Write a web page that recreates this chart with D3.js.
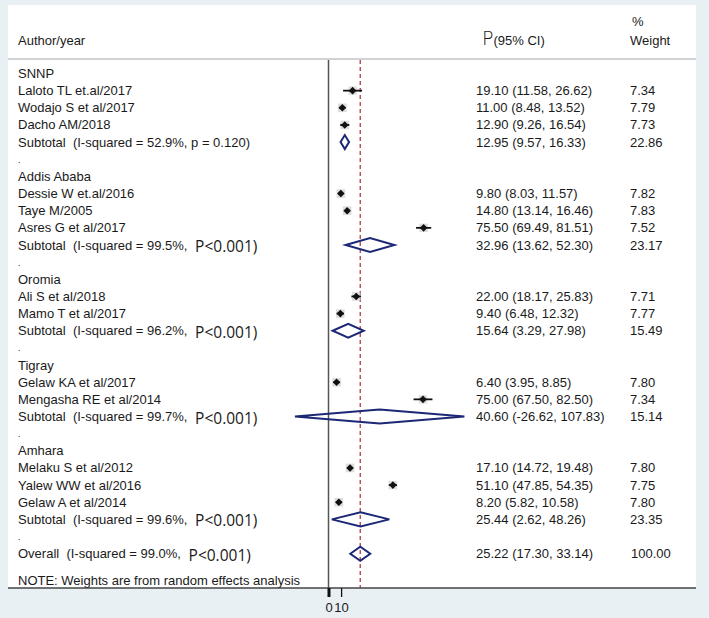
<!DOCTYPE html>
<html>
<head>
<meta charset="utf-8">
<script src="https://cdn.jsdelivr.net/npm/d3@7"></script>
<style>
  html, body { margin: 0; padding: 0; background: #e9f0f4; }
  svg { display: block; }
  text { font-family: "Liberation Sans", Arial, sans-serif; fill: #1a1a1a; }
</style>
</head>
<body>
<svg id="chart" width="709" height="618"></svg>
<script>
// ---------- DATA ----------
const groups = ["SNNP", "Addis Ababa", "Oromia", "Tigray", "Amhara"];

const studyNames = [
  "Laloto TL et.al/2017", "Wodajo S et al/2017", "Dacho AM/2018",
  "Dessie W et.al/2016", "Taye M/2005", "Asres G et al/2017",
  "Ali S et al/2018", "Mamo T et al/2017",
  "Gelaw KA et al/2017", "Mengasha RE et al/2014",
  "Melaku S et al/2012", "Yalew WW et al/2016", "Gelaw A et al/2014"
];
const studyGroup = [0, 0, 0, 1, 1, 1, 2, 2, 3, 3, 4, 4, 4];
const studyEst = [19.10, 11.00, 12.90, 9.80, 14.80, 75.50, 22.00, 9.40, 6.40, 75.00, 17.10, 51.10, 8.20];
const studyLo  = [11.58, 8.48, 9.26, 8.03, 13.14, 69.49, 18.17, 6.48, 3.95, 67.50, 14.72, 47.85, 5.82];
const studyHi  = [26.62, 13.52, 16.54, 11.57, 16.46, 81.51, 25.83, 12.32, 8.85, 82.50, 19.48, 54.35, 10.58];
const studyWeight = [7.34, 7.79, 7.73, 7.82, 7.83, 7.52, 7.71, 7.77, 7.80, 7.34, 7.80, 7.75, 7.80];

const subI2 = ["52.9%", "99.5%", "96.2%", "99.7%", "99.6%"];
const subP = ["p = 0.120", "P<0.001", "P<0.001", "P<0.001", "P<0.001"];
const subEst = [12.95, 32.96, 15.64, 40.60, 25.44];
const subLo  = [9.57, 13.62, 3.29, -26.62, 2.62];
const subHi  = [16.33, 52.30, 27.98, 107.83, 48.26];
const subWeight = [22.86, 23.17, 15.49, 15.14, 23.35];

const overallI2 = "99.0%";
const overallP = "P<0.001";
const overallEst = 25.22, overallLo = 17.30, overallHi = 33.14, overallWeight = 100.00;

const xTicks = [0, 10];
const noteText = "NOTE: Weights are from random effects analysis";

// ---------- BUILD ROWS ----------
const rows = [];
groups.forEach((g, gi) => {
  rows.push({type: "group", label: g});
  studyNames.forEach((n, i) => {
    if (studyGroup[i] === gi) rows.push({type: "study", label: n, est: studyEst[i], lo: studyLo[i], hi: studyHi[i], w: studyWeight[i]});
  });
  rows.push({type: "sub", i2: subI2[gi], p: subP[gi], est: subEst[gi], lo: subLo[gi], hi: subHi[gi], w: subWeight[gi]});
  rows.push({type: "dot"});
});
rows.push({type: "overall", i2: overallI2, p: overallP, est: overallEst, lo: overallLo, hi: overallHi, w: overallWeight});

// ---------- LAYOUT ----------
const svg = d3.select("#chart");
const panel = {x0: 8, x1: 696, y0: 5, y1: 588};
const x = d3.scaleLinear().domain([0, 100]).range([328.5, 454.5]);
const y = d3.scaleLinear().domain([0, 28]).range([73.5, 553.7]);
const fmt = (v) => v.toFixed(2);

svg.append("rect").attr("x", panel.x0).attr("y", panel.y0)
  .attr("width", panel.x1 - panel.x0).attr("height", panel.y1 - panel.y0)
  .attr("fill", "#fff");

// header separator
svg.append("line").attr("x1", panel.x0).attr("x2", panel.x1).attr("y1", 59).attr("y2", 59)
  .attr("stroke", "#cfd3d6").attr("stroke-width", 2);

// headers
const fs = 13;
svg.append("text").attr("x", 18).attr("y", 45).attr("font-size", fs).text("Author/year");
const ph = svg.append("text").attr("x", 482).attr("y", 45).attr("font-size", fs);
ph.append("tspan").attr("font-size", 19).attr("font-family", "DejaVu Sans").attr("font-weight", 300).text("P");
ph.append("tspan").text("(95% CI)");
svg.append("text").attr("x", 632).attr("y", 26).attr("font-size", fs).text("%");
svg.append("text").attr("x", 630).attr("y", 45).attr("font-size", fs).text("Weight");

// vertical null line
svg.append("line").attr("x1", x(0)).attr("x2", x(0)).attr("y1", 60).attr("y2", panel.y1)
  .attr("stroke", "#555").attr("stroke-width", 1.5);
// overall dashed line
svg.append("line").attr("x1", x(overallEst)).attr("x2", x(overallEst)).attr("y1", 60).attr("y2", panel.y1)
  .attr("stroke", "#b5545c").attr("stroke-width", 1.5).attr("stroke-dasharray", "4,3");

// rows
const g = svg.append("g");
rows.forEach((r, i) => {
  const yy = y(i);
  const ty = yy + 4.5;
  if (r.type === "group") {
    g.append("text").attr("x", 18).attr("y", ty).attr("font-size", fs).text(r.label);
  } else if (r.type === "dot") {
    g.append("text").attr("x", 18).attr("y", ty - 1).attr("font-size", 9).text(".");
  } else if (r.type === "study") {
    g.append("text").attr("x", 18).attr("y", ty).attr("font-size", fs).text(r.label);
    const s = Math.sqrt(r.w) * 3.1;
    g.append("rect").attr("x", x(r.est) - s / 2).attr("y", yy - s / 2).attr("width", s).attr("height", s)
      .attr("fill", "#d6d6d6").attr("opacity", 0.8);
    g.append("line").attr("x1", x(r.lo)).attr("x2", x(r.hi)).attr("y1", yy).attr("y2", yy)
      .attr("stroke", "#111").attr("stroke-width", 1.8);
    const d = 3.8;
    g.append("path").attr("d", `M${x(r.est) - d},${yy}L${x(r.est)},${yy - d}L${x(r.est) + d},${yy}L${x(r.est)},${yy + d}Z`)
      .attr("fill", "#111");
    g.append("text").attr("x", 476).attr("y", ty).attr("font-size", fs)
      .text(`${fmt(r.est)} (${fmt(r.lo)}, ${fmt(r.hi)})`);
    g.append("text").attr("x", 630).attr("y", ty).attr("font-size", fs).text(fmt(r.w));
  } else {
    const lead = r.type === "sub" ? "Subtotal" : "Overall";
    const t = g.append("text").attr("x", 18).attr("y", ty).attr("font-size", fs).attr("xml:space", "preserve");
    if (r.p.startsWith("P")) {
      t.append("tspan").text(`${lead}  (I-squared = ${r.i2}, `);
      t.append("tspan").attr("dx", 4).attr("dy", 2.5).attr("font-size", 15.5)
        .attr("font-family", "Open Sans, sans-serif").text(`${r.p})`);
    } else {
      t.text(`${lead}  (I-squared = ${r.i2}, ${r.p})`);
    }
    const h = 7;
    g.append("path").attr("d", `M${x(r.lo)},${yy}L${x(r.est)},${yy - h}L${x(r.hi)},${yy}L${x(r.est)},${yy + h}Z`)
      .attr("fill", "none").attr("stroke", "#1c2776").attr("stroke-width", 2).attr("stroke-linejoin", "miter");
    g.append("text").attr("x", 476).attr("y", ty).attr("font-size", fs)
      .text(`${fmt(r.est)} (${fmt(r.lo)}, ${fmt(r.hi)})`);
    g.append("text").attr("x", r.w >= 100 ? 631 : 630).attr("y", ty).attr("font-size", fs).text(fmt(r.w));
  }
});

// note
svg.append("text").attr("x", 18).attr("y", 584.5).attr("font-size", 13).text(noteText);

// bottom axis
const axisG = svg.append("g").attr("transform", `translate(0,${panel.y1})`);
axisG.append("line").attr("x1", panel.x0).attr("x2", panel.x1).attr("y1", 0).attr("y2", 0)
  .attr("stroke", "#444").attr("stroke-width", 1.5);
const axis = d3.axisBottom(x).tickValues(xTicks).tickSize(9).tickPadding(6).tickFormat(d3.format("d"));
const ax = axisG.append("g").call(axis);
ax.select(".domain").remove();
ax.selectAll(".tick line").attr("stroke", "#111").attr("stroke-width", (d) => d === 0 ? 3 : 1.3);
ax.selectAll(".tick text").attr("font-size", 13).attr("fill", "#1a1a1a")
  .attr("font-family", "Liberation Sans, Arial, sans-serif");
</script>
</body>
</html>
